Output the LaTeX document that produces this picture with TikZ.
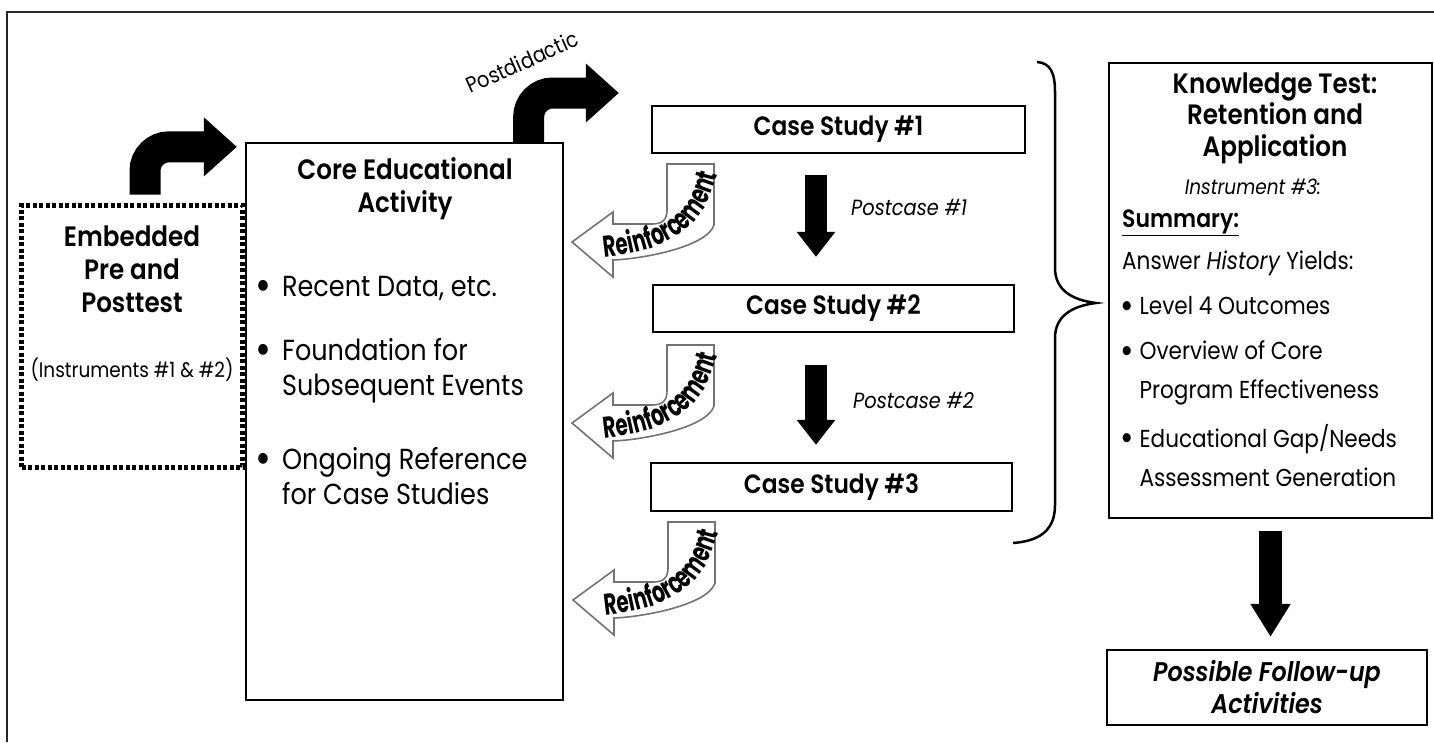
\documentclass[tikz,border=0pt]{standalone}
\usepackage{fontspec}
\setmainfont{Poppins}[FakeStretch=0.88,BoldFont={Poppins SemiBold},BoldItalicFont={Poppins SemiBold Italic}]
\newfontfamily\narrowfont{Poppins}[FakeStretch=0.66,BoldFont={Poppins Bold}]
\usetikzlibrary{arrows.meta,decorations.text}

\begin{document}
\begin{tikzpicture}[x=1pt,y=-1pt,
  box/.style={draw,line width=2.3pt,inner sep=0pt},
  dotbox/.style={draw,line width=5pt,dash pattern=on 4pt off 2.5pt,inner sep=0pt},
  heading/.style={font=\bfseries\fontsize{28}{33}\selectfont,align=center,inner sep=0pt},
  case/.style={font=\bfseries\fontsize{26.5}{33}\selectfont,inner sep=0pt},
  plain/.style={font=\fontsize{29}{35}\selectfont,align=left,inner sep=0pt,anchor=west},
  info/.style={font=\fontsize{24.5}{39}\selectfont,align=left,inner sep=0pt,anchor=west},
  note/.style={font=\itshape\fontsize{22}{26}\selectfont,inner sep=0pt},
  bentarrow/.style={line width=31pt,rounded corners=24pt,-{Triangle[width=57pt,length=33pt]}},
  downarrow/.style={line width=22pt,-{Triangle[width=37pt,length=25pt]}},
  exitarrow/.style={line width=23pt,-{Triangle[width=38pt,length=33pt]}},
  reinforcement/.pic={
    \draw[draw=black!55,line width=1.6pt,fill=white]
      (0,0) -- (41,-30) -- (41,-18) -- (80,-18)
      .. controls (90,-18) and (95,-22) .. (95,-32) -- (95,-78) -- (142,-78)
      -- (142,-17) .. controls (135,5) and (70,17) .. (41,18) -- (41,35) -- cycle;
    \path[decorate,decoration={text along path,text align=center,
      text={|\narrowfont\bfseries\fontsize{30}{30}\selectfont|Reinforcement}}]
      (24,16) .. controls (85,11) and (134,-5) .. (147,-76);
  }]
\useasboundingbox (0,0) rectangle (1434,742);
\draw[line width=2pt,black!85] (7,742) -- (7,12) -- (1434,12);

\node (pre) at (132,336) [dotbox,minimum width=221,minimum height=262] {};
\node (pre-t) at (132,269) [heading] {Embedded\\Pre and\\Posttest};
\node (pre-s) at (132,370) [font=\fontsize{21}{25}\selectfont,inner sep=0pt] {(Instruments \#1 \& \#2)};

\node (core) at (404.5,421.5) [box,minimum width=317,minimum height=557] {};
\node (core-t) at (405,189) [heading] {Core Educational\\Activity};
\node (core-b1) at (255,289) [plain] {\begin{tabular}{@{}l@{\hspace{11pt}}l@{}}\raisebox{-4pt}{\fontsize{44}{35}\selectfont\textbullet} & Recent Data, etc.\end{tabular}};
\node (core-b2) at (255,370.5) [plain] {\begin{tabular}{@{}l@{\hspace{11pt}}l@{}}\raisebox{-4pt}{\fontsize{44}{35}\selectfont\textbullet} & Foundation for\\ & Subsequent Events\end{tabular}};
\node (core-b3) at (255,479.5) [plain] {\begin{tabular}{@{}l@{\hspace{11pt}}l@{}}\raisebox{-4pt}{\fontsize{44}{35}\selectfont\textbullet} & Ongoing Reference\\ & for Case Studies\end{tabular}};

\node (cs1) at (838.5,129.5) [box,case,minimum width=373,minimum height=47] {Case Study \#1};
\node (cs2) at (833.5,308.5) [box,case,minimum width=361,minimum height=47] {Case Study \#2};
\node (cs3) at (831.5,487) [box,case,minimum width=361,minimum height=48] {Case Study \#3};
\coordinate (col) at (816,0);
\node (pc1) at (851,207) [note,anchor=west] {Postcase \#1};
\node (pc2) at (853,400) [note,anchor=west] {Postcase \#2};

\node (kt) at (1270.5,290.5) [box,minimum width=323,minimum height=455] {};
\node (kt-t) at (1275,118) [heading,font=\bfseries\fontsize{28}{31.5}\selectfont] {Knowledge Test:\\Retention and\\Application};
\node (kt-i) at (1253,187) [note,font=\itshape\fontsize{21}{25}\selectfont] {Instrument \#3:};
\node (kt-s) at (1122,223) [info,font=\bfseries\fontsize{25}{30}\selectfont] {\underline{Summary:}};
\node (kt-a) at (1122,263) [info] {Answer \textit{History} Yields:};
\node (kt-b1) at (1120,307) [info] {\begin{tabular}{@{}l@{\hspace{6pt}}l@{}}\raisebox{-3.5pt}{\fontsize{37}{35}\selectfont\textbullet} & Level 4 Outcomes\end{tabular}};
\node (kt-b2) at (1120,371.5) [info] {\begin{tabular}{@{}l@{\hspace{6pt}}l@{}}\raisebox{-3.5pt}{\fontsize{37}{35}\selectfont\textbullet} & Overview of Core\\ & Program Effectiveness\end{tabular}};
\node (kt-b3) at (1120,459) [info] {\begin{tabular}{@{}l@{\hspace{6pt}}l@{}}\raisebox{-3.5pt}{\fontsize{37}{35}\selectfont\textbullet} & Educational Gap/Needs\\ & Assessment Generation\end{tabular}};

\node (fu) at (1267,687.5) [box,minimum width=320,minimum height=75,inner sep=0pt,font=\bfseries\itshape\fontsize{27}{32}\selectfont,align=center] {Possible Follow-up\\Activities};

\node (post) at (522,62) [rotate=24,font=\fontsize{22}{26}\selectfont,inner sep=0pt] {Postdidactic};

\draw[bentarrow,shorten <=8pt,shorten >=8pt] ([xshift=13pt]pre.north) |- ([yshift=-5pt]core.north west);
\draw[bentarrow] ([xshift=-35.5pt]core.north east) |- ([shift={(-32,-36.5)}]cs1.west);
\draw[downarrow,shorten <=21pt,shorten >=27pt] (cs1.south -| col) -- (cs2.north -| col);
\draw[downarrow,shorten <=32pt,shorten >=17pt] (cs2.south -| col) -- (cs3.north -| col);
\draw[exitarrow,shorten <=12pt,shorten >=12pt] (kt.south) -- (kt.south |- fu.north);

\pic (r1) at (572,242) {reinforcement};
\pic (r2) at (572,423) {reinforcement};
\pic (r3) at (573,600) {reinforcement};

\draw[line width=2.5pt] (1037,62) .. controls (1050,63) and (1055,72) .. (1055,92) -- (1055,268)
  .. controls (1055,290) and (1072,300) .. (1096,303) .. controls (1072,306) and (1055,316) .. (1055,338)
  -- (1055,505) .. controls (1055,530) and (1040,541) .. (1013,543);
\end{tikzpicture}
\end{document}
